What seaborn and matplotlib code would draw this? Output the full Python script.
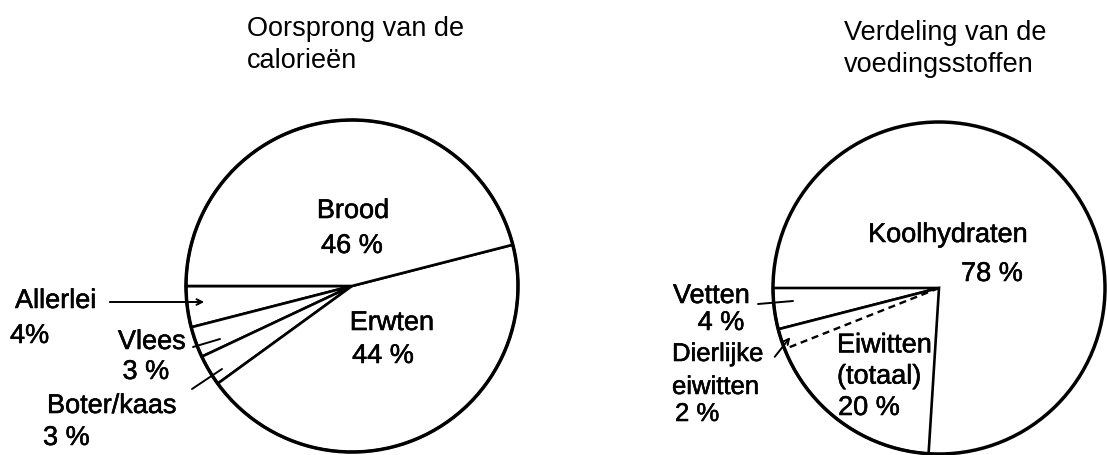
import numpy as np
import matplotlib
matplotlib.use("Agg")
import matplotlib.pyplot as plt
import matplotlib.patheffects as pe
from matplotlib.patches import Circle
import seaborn as sns

# Oorsprong van de calorieën (procent)
cal_labels = ["Allerlei", "Vlees", "Boter/kaas", "Erwten", "Brood"]
cal_pct = [4, 3, 3, 44, 46]

# Verdeling van de voedingsstoffen (procent)
nut_labels = ["Vetten", "Eiwitten\n(totaal)", "Koolhydraten"]
nut_pct = [4, 20, 78]
dier_label = ["Dierlijke", "eiwitten"]
dier_pct = 2

sns.set_theme(style="white")
plt.rcParams["font.family"] = ["Liberation Sans", "DejaVu Sans"]

W, H = 1107, 456
fig = plt.figure(figsize=(W / 100, H / 100), dpi=100)
ax = fig.add_axes([0, 0, 1, 1])

edge = dict(facecolor="white", edgecolor="black", linewidth=1.9)

# linker taart
c1, r1 = (352, 287), 166
ax.pie(cal_pct, startangle=180, counterclock=False, center=c1, radius=r1,
       wedgeprops=edge)
ax.add_patch(Circle(c1, r1, fill=False, ec="black", lw=2.5, zorder=5))

# rechter taart: vetten en eiwitten als wig, koolhydraten is de rest
c2, r2 = (939, 289), 166
ax.pie([v / 100 for v in nut_pct[:2]], normalize=False, startangle=180,
       counterclock=False, center=c2, radius=r2, wedgeprops=edge)
ax.add_patch(Circle(c2, r2, fill=False, ec="black", lw=2.5, zorder=5))

# gestippelde lijn voor dierlijke eiwitten
theta = np.deg2rad(180 + (nut_pct[0] + dier_pct) * 3.6)
ax.plot([c2[0], c2[0] + r2 * np.cos(theta)], [c2[1], c2[1] - r2 * np.sin(theta)],
        ls=(0, (3, 2)), color="black", lw=1.7, zorder=4)

fs = 19.5
heavy = [pe.withStroke(linewidth=0.4, foreground="black")]
tkw = dict(fontsize=fs, color="black", va="center", path_effects=heavy)
ttl = dict(fontsize=fs, color="black", va="center")

# titels
ax.text(247, 29, "Oorsprong van de", ha="left", **ttl)
ax.text(247, 61, "calorieën", ha="left", **ttl)
ax.text(844, 33, "Verdeling van de", ha="left", **ttl)
ax.text(844, 65, "voedingsstoffen", ha="left", **ttl)

# labels links
ax.text(353, 212, cal_labels[4], ha="center", **tkw)
ax.text(352, 247, f"{cal_pct[4]} %", ha="center", **tkw)
ax.text(392, 324, cal_labels[3], ha="center", **tkw)
ax.text(383, 357, f"{cal_pct[3]} %", ha="center", **tkw)
ax.text(15, 302, cal_labels[0], ha="left", **tkw)
ax.text(10, 337, f"{cal_pct[0]}%", ha="left", **tkw)
ax.text(152, 343, cal_labels[1], ha="center", **tkw)
ax.text(146, 373, f"{cal_pct[1]} %", ha="center", **tkw)
ax.text(47, 407, cal_labels[2], ha="left", **tkw)
ax.text(43, 439, f"{cal_pct[2]} %", ha="left", **tkw)

ax.annotate("", xy=(207, 303), xytext=(107, 303),
            arrowprops=dict(arrowstyle="->", lw=1.4, color="black", mutation_scale=10))
ax.plot([193, 220], [348, 340], color="black", lw=1.4)
ax.plot([192, 222], [390, 370], color="black", lw=1.4)

# labels rechts
ax.text(948, 236, nut_labels[2], ha="center", **tkw)
ax.text(992, 275, f"{nut_pct[2]} %", ha="center", **tkw)
ax.text(673, 297, nut_labels[0], ha="left", **tkw)
ax.text(721, 324, f"{nut_pct[0]} %", ha="center", **tkw)
ax.text(837, 362, nut_labels[1], ha="left", linespacing=1.26, **tkw)
ax.text(869, 409, f"{nut_pct[1]} %", ha="center", **tkw)

skw = dict(tkw, fontsize=18.5)
ax.text(672, 355, dier_label[0], ha="left", **skw)
ax.text(672, 388, dier_label[1], ha="left", **skw)
ax.text(675, 415, f"{dier_pct} %", ha="left", **skw)

ax.plot([758, 793], [305, 302], color="black", lw=1.4)
ax.annotate("", xy=(792, 336), xytext=(773, 360),
            arrowprops=dict(arrowstyle="->", lw=1.4, color="black", mutation_scale=10))

ax.set_xlim(0, W)
ax.set_ylim(H, 0)
ax.axis("off")

fig.savefig("out.png", dpi=100, facecolor="white")
